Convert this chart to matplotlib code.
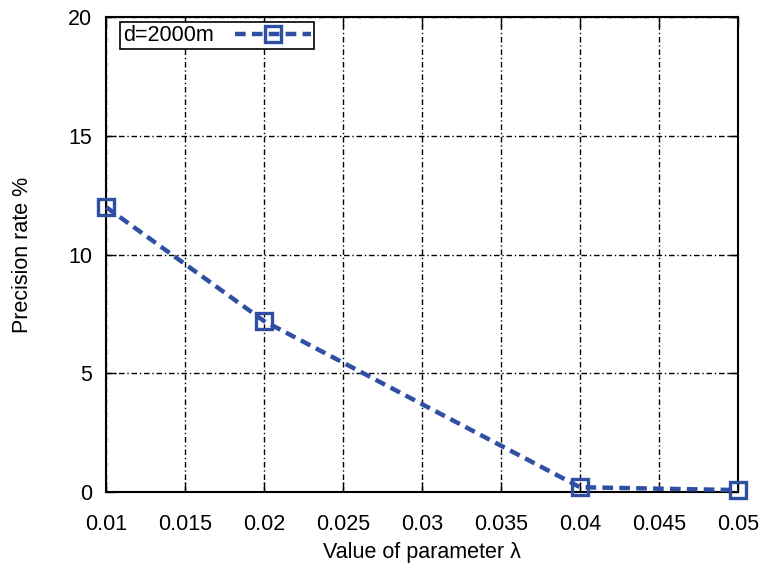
import matplotlib
matplotlib.use('Agg')
import matplotlib.pyplot as plt

lam = [0.01, 0.02, 0.04, 0.05]
precision = [12.0, 7.2, 0.2, 0.08]
label = 'd=2000m'

plt.rcParams['font.family'] = ['Liberation Sans', 'DejaVu Sans']
plt.rcParams['font.size'] = 15.5

fig = plt.figure(figsize=(7.65, 5.72), dpi=100)
ax = fig.add_axes([0.1386, 0.1399, 0.9647 - 0.1386, 0.970 - 0.1399])

ax.plot(lam, precision, color='#2f4fa3', lw=3.2, ls=(0, (2.4, 1.4)),
        marker='s', ms=12, mfc='none', mec='#2f4fa3', mew=2.4, label=label,
        clip_on=False, zorder=5)

ax.set_xlim(0.01, 0.05)
ax.set_ylim(0, 20)
ax.set_xticks([0.01, 0.015, 0.02, 0.025, 0.03, 0.035, 0.04, 0.045, 0.05])
ax.set_xticklabels(['0.01', '0.015', '0.02', '0.025', '0.03', '0.035', '0.04', '0.045', '0.05'])
ax.set_yticks([0, 5, 10, 15, 20])
ax.grid(True, color='black', lw=1, ls=(0, (4, 2, 1, 2)))
ax.tick_params(direction='in', top=True, right=True, length=7, width=1)
ax.tick_params(axis='x', pad=16)
ax.tick_params(axis='y', pad=10)
for s in ax.spines.values():
    s.set_linewidth(1.5)

ax.set_xlabel('Value of parameter λ', labelpad=5)
ax.set_ylabel('Precision rate %', labelpad=25)

leg = ax.legend(loc='upper left', bbox_to_anchor=(0.022, 0.99),
                markerfirst=False, fancybox=False,
                edgecolor='black', framealpha=1, handlelength=3.5,
                borderaxespad=0, borderpad=0.15, handletextpad=1.0)
leg.get_frame().set_linewidth(1.2)

fig.savefig('out.png', dpi=100)
